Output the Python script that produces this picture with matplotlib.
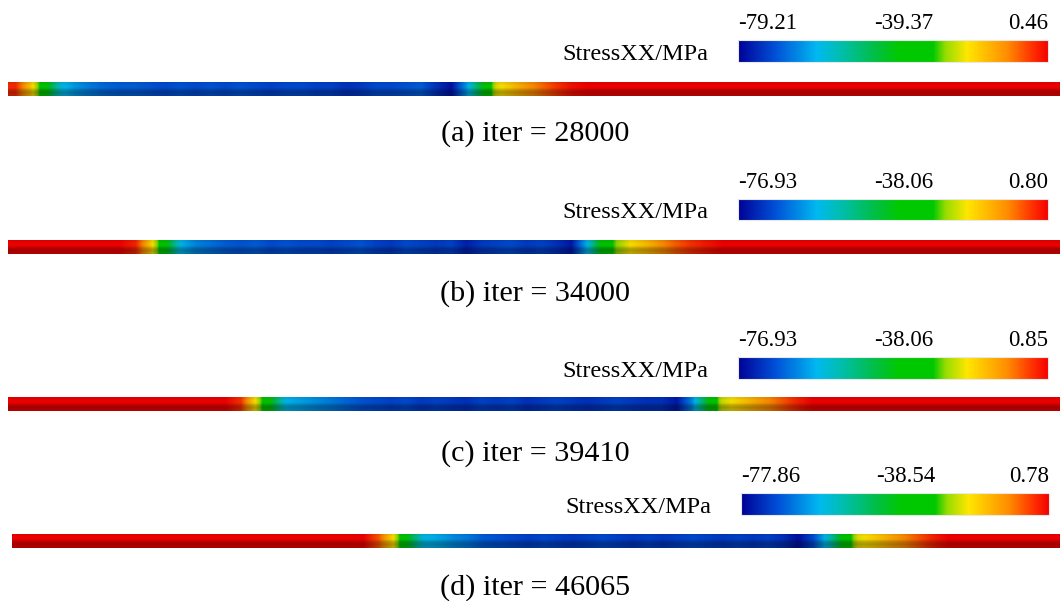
import numpy as np
import matplotlib
matplotlib.use("Agg")
import matplotlib.pyplot as plt
from matplotlib.colors import LinearSegmentedColormap, Normalize

plt.rcParams['font.family'] = ['Liberation Serif', 'DejaVu Serif']

# ---------------- data ----------------
captions = ["(a) iter = 28000", "(b) iter = 34000", "(c) iter = 39410", "(d) iter = 46065"]
vmins = [-79.21, -76.93, -76.93, -77.86]
mids = [-39.37, -38.06, -38.06, -38.54]
vmaxs = [0.46, 0.80, 0.85, 0.78]
cbar_label = "StressXX/MPa"

# StressXX (MPa) sampled at 70 equally spaced stations along the bar (left -> right)
stress_a = [-3, -17, -36, -57, -62, -65, -67, -68, -68, -69,
            -70, -69, -70, -69, -70, -69, -70, -71, -70, -70,
            -71, -71, -73, -72, -70, -70, -69, -68, -73, -77,
            -62, -42, -22, -17, -12, -8, -4, -1, 0.2, 0.3,
            0.4, 0.3, 0.2, 0.3, 0.4, 0.3, 0.2, 0.3, 0.4, 0.3,
            0.3, 0.4, 0.3, 0.2, 0.3, 0.4, 0.3, 0.3, 0.2, 0.3,
            0.4, 0.3, 0.3, 0.2, 0.3, 0.4, 0.3, 0.3, 0.3, 0.3]
stress_b = [0.5, 0.6, 0.5, 0.6, 0.5, 0.6, 0.5, 0.5, -2, -17,
            -36, -57, -62, -64, -66, -67, -66, -68, -67, -68,
            -68, -69, -68, -67, -69, -70, -68, -69, -70, -69,
            -73, -70, -69, -68, -70, -69, -71, -74, -58, -36,
            -25, -19, -15, -10, -6, -3, -1, 0.5, 0.6, 0.5,
            0.6, 0.5, 0.6, 0.5, 0.6, 0.5, 0.6, 0.5, 0.6, 0.5,
            0.6, 0.5, 0.6, 0.5, 0.6, 0.5, 0.6, 0.5, 0.6, 0.5]
stress_c = [0.6, 0.7, 0.6, 0.7, 0.6, 0.7, 0.6, 0.7, 0.6, 0.7,
            0.6, 0.7, 0.6, 0.7, 0.6, -3, -20, -38, -57, -59,
            -61, -63, -65, -67, -68, -69, -68, -70, -69, -70,
            -71, -69, -70, -69, -71, -70, -69, -70, -71, -70,
            -69, -70, -71, -71, -74, -62, -40, -22, -18, -14,
            -10, -6, -2, 0.6, 0.7, 0.6, 0.7, 0.6, 0.7, 0.6,
            0.7, 0.6, 0.7, 0.6, 0.7, 0.6, 0.7, 0.6, 0.7, 0.6]
stress_d = [0.5, 0.6, 0.5, 0.6, 0.5, 0.6, 0.5, 0.6, 0.5, 0.6,
            0.5, 0.6, 0.5, 0.6, 0.5, 0.6, 0.5, 0.6, 0.5, 0.6,
            0.5, 0.6, 0.5, 0.6, -6, -20, -40, -57, -59, -62,
            -64, -67, -68, -69, -70, -69, -70, -71, -70, -69,
            -70, -71, -70, -71, -70, -69, -70, -71, -70, -71,
            -70, -72, -76, -69, -55, -37, -21, -18, -14, -10,
            -6, -2, 0.5, 0.6, 0.5, 0.6, 0.5, 0.6, 0.5, 0.6]
stress = [stress_a, stress_b, stress_c, stress_d]

# ---------------- layout (pixels) ----------------
W, H = 1060, 601
bar_boxes = [(8, 82, 1060, 96), (8, 240, 1060, 254), (8, 397, 1060, 411), (12, 534, 1060, 548)]
cbar_boxes = [(738, 40, 1048, 62), (738, 199, 1048, 220), (738, 357, 1048, 379), (741, 493, 1049, 515)]
caption_y = [141, 301, 461, 595]

def rect(x0, y0, x1, y1):
    return [x0 / W, 1 - y1 / H, (x1 - x0) / W, (y1 - y0) / H]

stops = [(0.0, (0, 0, 150)), (0.12, (0, 80, 215)), (0.255, (0, 185, 240)),
         (0.33, (0, 190, 175)), (0.44, (0, 190, 70)), (0.52, (0, 200, 0)),
         (0.63, (0, 200, 0)), (0.67, (150, 220, 0)), (0.74, (255, 230, 0)),
         (0.87, (255, 140, 0)), (0.94, (255, 60, 0)), (1.0, (245, 0, 0))]
cmap = LinearSegmentedColormap.from_list(
    "stress", [(p, tuple(c / 255 for c in col)) for p, col in stops], N=512)

fig = plt.figure(figsize=(W / 100, H / 100), dpi=100)
fig.patch.set_facecolor("white")

# vertical shading for the cylindrical look
shade_alpha = np.array([0.10, 0.04, 0.06, 0.26, 0.34, 0.28])
shade = np.zeros((len(shade_alpha), 1, 4))
shade[:, 0, 3] = shade_alpha

for i in range(4):
    norm = Normalize(vmin=vmins[i], vmax=vmaxs[i])
    vals = np.array(stress[i], dtype=float)
    n = len(vals)

    ax = fig.add_axes(rect(*bar_boxes[i]))
    ax.imshow(vals[None, :], cmap=cmap, norm=norm, aspect="auto",
              extent=[0, n, 0, 1], interpolation="bilinear",
              interpolation_stage="data")
    ax.imshow(shade, aspect="auto", extent=[0, n, 0, 1],
              interpolation="bilinear")
    ax.set_xlim(0, n)
    ax.set_ylim(0, 1)
    ax.axis("off")

    cax = fig.add_axes(rect(*cbar_boxes[i]))
    cb = fig.colorbar(plt.cm.ScalarMappable(norm=norm, cmap=cmap), cax=cax,
                      orientation="horizontal")
    cb.set_ticks([])
    cb.outline.set_edgecolor("#e8e8e8")
    cb.outline.set_linewidth(0.8)
    bh = cbar_boxes[i][3] - cbar_boxes[i][1]
    bw = cbar_boxes[i][2] - cbar_boxes[i][0]
    ty = 1 + 11 / bh
    cax.text(0.0, ty, f"{vmins[i]:.2f}", transform=cax.transAxes,
             ha="left", va="baseline", fontsize=16.5)
    cax.text(0.535, ty, f"{mids[i]:.2f}", transform=cax.transAxes,
             ha="center", va="baseline", fontsize=16.5)
    cax.text(1.0, ty, f"{vmaxs[i]:.2f}", transform=cax.transAxes,
             ha="right", va="baseline", fontsize=16.5)
    cax.text(-30 / bw, 2 / bh, cbar_label, transform=cax.transAxes,
             ha="right", va="baseline", fontsize=17.5)

    fig.text(535 / W, 1 - caption_y[i] / H, captions[i], ha="center",
             va="baseline", fontsize=21.7)

fig.savefig("out.png", dpi=100)
